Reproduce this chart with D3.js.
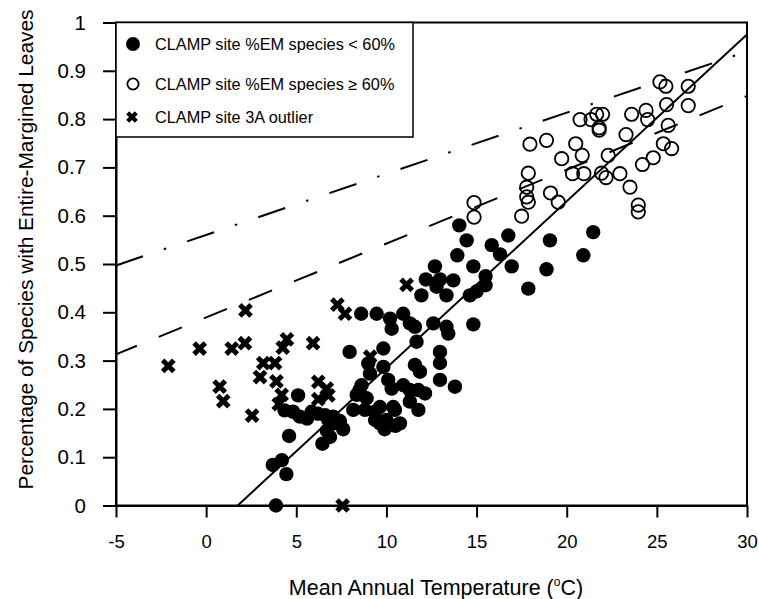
<!DOCTYPE html>
<html>
<head>
<meta charset="utf-8">
<script src="https://cdn.jsdelivr.net/npm/d3@7"></script>
<style>
  body { margin: 0; background: #fff; }
  svg { display: block; font-family: "Liberation Sans", Arial, Helvetica, sans-serif; }
</style>
</head>
<body>
<svg id="chart" width="759" height="599"></svg>
<script>
// Axis ticks
const xTicks = [-5, 0, 5, 10, 15, 20, 25, 30];
const yTicks = [0, 0.1, 0.2, 0.3, 0.4, 0.5, 0.6, 0.7, 0.8, 0.9, 1];
const yTickLabels = ["0", "0.1", "0.2", "0.3", "0.4", "0.5", "0.6", "0.7", "0.8", "0.9", "1"];

// Legend entries
const legendLabels = [
  "CLAMP site %EM species < 60%",
  "CLAMP site %EM species \u2265 60%",
  "CLAMP site 3A outlier"
];

// CLAMP sites with < 60% entire-margined species: [MAT (°C), fraction EM]
const filledSites = [
  [3.87, 0.0], [3.7, 0.084], [4.2, 0.094], [4.45, 0.065], [4.6, 0.144],
  [4.35, 0.197], [4.83, 0.194], [5.1, 0.228], [5.2, 0.184], [5.6, 0.18], [5.85, 0.194], [6.2, 0.19],
  [6.45, 0.128], [6.7, 0.155], [6.87, 0.142], [6.6, 0.187], [7.05, 0.17], [7.05, 0.184], [6.78, 0.177],
  [7.42, 0.175], [7.6, 0.158],
  [7.96, 0.318], [8.6, 0.397], [9.46, 0.397], [10.2, 0.387], [10.29, 0.366], [10.93, 0.397], [11.3, 0.377],
  [11.58, 0.37], [12.6, 0.377], [13.33, 0.37], [13.43, 0.356], [11.67, 0.339], [9.83, 0.325], [12.97, 0.318],
  [11.58, 0.291], [11.86, 0.277], [12.97, 0.295], [12.97, 0.26], [13.8, 0.246], [8.99, 0.294], [9.83, 0.287],
  [9.09, 0.273], [10.1, 0.26], [8.62, 0.249], [10.29, 0.242], [10.93, 0.249], [11.3, 0.239], [11.77, 0.239],
  [12.14, 0.232], [8.35, 0.229], [8.9, 0.222], [8.16, 0.198], [8.81, 0.198], [9.64, 0.204], [9.37, 0.177],
  [10.0, 0.177], [10.47, 0.198], [11.3, 0.215], [11.77, 0.198], [10.75, 0.17], [8.5, 0.239], [9.37, 0.194],
  [9.64, 0.17], [10.38, 0.204], [9.9, 0.158], [10.5, 0.165],
  [12.69, 0.495], [12.19, 0.468], [12.97, 0.468], [13.71, 0.466], [11.94, 0.435], [12.78, 0.453], [13.33, 0.435],
  [14.04, 0.58], [14.45, 0.549], [15.84, 0.539], [13.93, 0.518], [14.82, 0.495], [16.3, 0.52], [15.5, 0.475],
  [15.5, 0.456], [14.63, 0.435], [15.0, 0.443], [14.82, 0.375], [16.76, 0.559], [19.07, 0.549], [21.47, 0.566],
  [16.95, 0.495], [18.88, 0.489], [20.92, 0.518], [17.87, 0.449]
];

// CLAMP sites with >= 60% entire-margined species
const openSites = [
  [25.17, 0.877], [25.5, 0.868], [26.74, 0.868], [26.74, 0.828], [25.54, 0.83], [24.4, 0.818], [23.6, 0.81],
  [24.49, 0.799], [25.63, 0.787], [20.74, 0.799], [21.35, 0.799], [21.66, 0.81], [21.99, 0.81], [21.8, 0.782],
  [21.8, 0.777], [23.29, 0.768], [17.96, 0.748], [18.88, 0.756], [20.5, 0.749], [20.86, 0.725], [19.72, 0.718],
  [22.3, 0.725], [25.36, 0.749], [25.82, 0.739], [24.8, 0.72], [24.2, 0.706], [20.32, 0.687], [20.95, 0.687],
  [21.93, 0.688], [22.18, 0.679], [22.95, 0.687], [23.51, 0.659], [17.87, 0.688], [17.78, 0.659], [17.78, 0.639],
  [17.87, 0.628], [19.1, 0.647], [19.53, 0.628], [17.5, 0.599], [23.97, 0.622], [23.97, 0.608], [14.86, 0.627],
  [14.86, 0.597]
];

// Site 3A outliers
const outlierSites = [
  [-2.1, 0.289], [-0.36, 0.325], [0.75, 0.246], [0.95, 0.216], [1.42, 0.325], [2.18, 0.404], [2.15, 0.336],
  [2.55, 0.186], [2.99, 0.266], [3.17, 0.295], [3.82, 0.295], [3.9, 0.257], [4.19, 0.229], [4.03, 0.21],
  [4.25, 0.327], [4.48, 0.344], [5.93, 0.336], [6.22, 0.256], [6.69, 0.242], [6.78, 0.228], [6.22, 0.22],
  [7.28, 0.416], [7.7, 0.397], [7.57, 0.0], [9.1, 0.308], [11.12, 0.457]
];

// Regression line and the two reference lines, as end points [MAT, fraction]
const regressionLine = [[1.75, 0], [30, 0.975]];
const upperLine = [[-5, 0.497], [30, 0.94]];
const lowerLine = [[-5, 0.313], [30, 0.848]];

const svg = d3.select("#chart");
const plotLeft = 116, plotRight = 747, plotTop = 22.5, plotBottom = 505.5;

const x = d3.scaleLinear().domain([-5, 30]).range([plotLeft, plotRight]);
const y = d3.scaleLinear().domain([0, 1]).range([plotBottom, plotTop]);

// Frame
svg.append("rect")
  .attr("x", plotLeft).attr("y", plotTop)
  .attr("width", plotRight - plotLeft).attr("height", plotBottom - plotTop)
  .attr("fill", "none").attr("stroke", "#000").attr("stroke-width", 2);

// Axes
const xAxis = svg.append("g")
  .attr("transform", `translate(0,${plotBottom})`)
  .call(d3.axisBottom(x).tickValues(xTicks).tickFormat(d => String(d))
    .tickSize(12).tickSizeOuter(0).tickPadding(17));
const yAxis = svg.append("g")
  .attr("transform", `translate(${plotLeft},0)`)
  .call(d3.axisLeft(y).tickValues(yTicks).tickFormat((d, i) => yTickLabels[i])
    .tickSize(13).tickSizeOuter(0).tickPadding(17));

[xAxis, yAxis].forEach(g => {
  g.select(".domain").attr("stroke", "#000").attr("stroke-width", 2);
  g.selectAll(".tick line").attr("stroke", "#000").attr("stroke-width", 2);
  g.selectAll(".tick text").attr("fill", "#000")
    .style("font-family", "'Liberation Sans', Arial, sans-serif");
});
xAxis.selectAll(".tick text").style("font-size", "18.5px");
yAxis.selectAll(".tick text").style("font-size", "20.5px");

// Axis titles
const xTitle = svg.append("text")
  .attr("x", 436).attr("y", 595)
  .attr("text-anchor", "middle")
  .style("font-size", "21.5px");
xTitle.append("tspan").text("Mean Annual Temperature (");
xTitle.append("tspan").attr("dy", -9).style("font-size", "12px").text("o");
xTitle.append("tspan").attr("dy", 9).text("C)");

svg.append("text")
  .attr("transform", "translate(32.5,249.5) rotate(-90)")
  .attr("text-anchor", "middle")
  .attr("textLength", 480).attr("lengthAdjust", "spacingAndGlyphs")
  .style("font-size", "20px")
  .text("Percentage of Species with Entire-Margined Leaves");

// Lines
const line = d3.line().x(d => x(d[0])).y(d => y(d[1]));
svg.append("path").datum(upperLine).attr("d", line)
  .attr("fill", "none").attr("stroke", "#000").attr("stroke-width", 2)
  .attr("stroke-dasharray", "28.5,22,2.4,22.2");
svg.append("path").datum(lowerLine).attr("d", line)
  .attr("fill", "none").attr("stroke", "#000").attr("stroke-width", 2)
  .attr("stroke-dasharray", "25,23.7").attr("stroke-dashoffset", 2.5);
svg.append("path").datum(regressionLine).attr("d", line)
  .attr("fill", "none").attr("stroke", "#000").attr("stroke-width", 2);

// Markers
const crossPath = s => `M${-s},${-s}L${s},${s}M${-s},${s}L${s},${-s}`;

svg.append("g").selectAll("circle").data(filledSites).join("circle")
  .attr("cx", d => x(d[0])).attr("cy", d => y(d[1])).attr("r", 7.2)
  .attr("fill", "#000");

svg.append("g").selectAll("circle").data(openSites).join("circle")
  .attr("cx", d => x(d[0])).attr("cy", d => y(d[1])).attr("r", 6.7)
  .attr("fill", "none").attr("stroke", "#000").attr("stroke-width", 1.8);

svg.append("g").selectAll("path").data(outlierSites).join("path")
  .attr("transform", d => `translate(${x(d[0])},${y(d[1])})`)
  .attr("d", crossPath(5.6))
  .attr("stroke", "#000").attr("stroke-width", 5).attr("fill", "none");

// Legend
const legend = svg.append("g");
legend.append("rect")
  .attr("x", plotLeft).attr("y", plotTop)
  .attr("width", 413 - plotLeft).attr("height", 137 - plotTop)
  .attr("fill", "#fff").attr("stroke", "#000").attr("stroke-width", 1.5);

const rowY = [44, 84, 117];
legend.append("circle").attr("cx", 133).attr("cy", rowY[0]).attr("r", 7).attr("fill", "#000");
legend.append("circle").attr("cx", 133).attr("cy", rowY[1]).attr("r", 5.6)
  .attr("fill", "none").attr("stroke", "#000").attr("stroke-width", 1.8);
legend.append("path").attr("transform", `translate(132,${rowY[2]})`)
  .attr("d", crossPath(4.3)).attr("stroke", "#000").attr("stroke-width", 4.2);

legend.selectAll("text").data(legendLabels).join("text")
  .attr("x", 155).attr("y", (d, i) => rowY[i] + 5.5)
  .style("font-size", "16.3px")
  .text(d => d);
</script>
</body>
</html>
